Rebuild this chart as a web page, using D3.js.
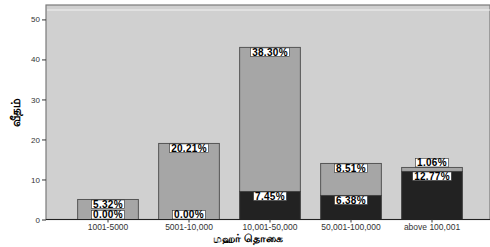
<!DOCTYPE html>
<html>
<head>
<meta charset="utf-8">
<script src="https://cdn.jsdelivr.net/npm/d3@7"></script>
<style>
  body { margin: 0; background: #fff; }
  svg { display: block; }
  .tick text { font-family: Arial, "Liberation Sans", sans-serif; }
</style>
</head>
<body>
<svg id="chart" width="490" height="247"></svg>
<script>
// categories and counts (N = 94)
const categories = ['1001-5000', '5001-10,000', '10,001-50,000', '50,001-100,000', 'above 100,001'];
const darkCounts = [0, 0, 7, 6, 12];
const greyCounts = [5, 19, 36, 8, 1];
const darkLabels = ['0.00%', '0.00%', '7.45%', '6.38%', '12.77%'];
const greyLabels = ['5.32%', '20.21%', '38.30%', '8.51%', '1.06%'];
const yTicks = [0, 10, 20, 30, 40, 50];

const svg = d3.select('#chart');
const plotLeft = 46, plotRight = 490, plotTop = 5, plotBottom = 219.5;

let y = d3.scaleLinear().domain([0, 53.6]).range([plotBottom, plotTop]);
let x = d3.scaleBand().domain(categories).range([67.5, 472.5]).paddingInner(0.25).paddingOuter(0.125);

// plot background
svg.append('rect')
  .attr('x', plotLeft).attr('y', plotTop)
  .attr('width', plotRight - plotLeft).attr('height', plotBottom - plotTop)
  .attr('fill', '#d0d0d0')
  .attr('stroke', '#7a7a7a').attr('stroke-width', 1.2);

// white line below the top frame
svg.append('line')
  .attr('x1', plotLeft + 1).attr('x2', plotRight)
  .attr('y1', plotTop + 5).attr('y2', plotTop + 5)
  .attr('stroke', '#f2f2f2').attr('stroke-width', 1.2);

let rows = categories.map((c, i) => ({
  cat: c, dark: darkCounts[i], grey: greyCounts[i],
  darkLabel: darkLabels[i], greyLabel: greyLabels[i]
}));

let g = svg.append('g');

// grey (upper) segments
g.selectAll('.grey').data(rows).enter().append('rect')
  .attr('x', d => x(d.cat)).attr('width', x.bandwidth())
  .attr('y', d => y(d.dark + d.grey))
  .attr('height', d => y(d.dark) - y(d.dark + d.grey))
  .attr('fill', '#a6a6a6').attr('stroke', '#555').attr('stroke-width', 1);

// dark (lower) segments
g.selectAll('.dark').data(rows.filter(d => d.dark > 0)).enter().append('rect')
  .attr('x', d => x(d.cat)).attr('width', x.bandwidth())
  .attr('y', d => y(d.dark))
  .attr('height', d => y(0) - y(d.dark))
  .attr('fill', '#222').attr('stroke', '#444').attr('stroke-width', 1);

// labels in white boxes
const boxH = 8.5;
let labels = [];
rows.forEach(d => {
  labels.push({ cat: d.cat, text: d.darkLabel, top: y(d.dark), bottom: y(0) });
  labels.push({ cat: d.cat, text: d.greyLabel, top: y(d.dark + d.grey), bottom: y(d.dark) });
});

let lg = svg.append('g');
labels.forEach(l => {
  // small segments: put the box just above the segment
  let boxTop = (l.bottom - l.top) < boxH + 1 ? l.top - boxH - 0.5 : l.top + 0.5;
  let cx = x(l.cat) + x.bandwidth() / 2;
  let t = lg.append('text')
    .attr('x', cx).attr('y', boxTop + boxH - 0.6)
    .attr('text-anchor', 'middle')
    .attr('font-family', 'Arial, "Liberation Sans", sans-serif')
    .attr('font-weight', 'bold')
    .attr('font-size', '10px')
    .attr('letter-spacing', '0.3px')
    .attr('fill', '#000')
    .text(l.text);
  let w = t.node().getComputedTextLength() + 3;
  lg.insert('rect', () => t.node())
    .attr('x', cx - w / 2).attr('y', boxTop)
    .attr('width', w).attr('height', boxH)
    .attr('fill', '#fff').attr('stroke', '#333').attr('stroke-width', 0.6);
});

// axes
let yAxis = svg.append('g')
  .attr('transform', 'translate(' + plotLeft + ',0)')
  .call(d3.axisLeft(y).tickValues(yTicks).tickSize(4).tickPadding(2));
yAxis.select('.domain').remove();
yAxis.selectAll('.tick line').attr('stroke', '#333');
yAxis.selectAll('.tick text').attr('font-size', '8px').attr('fill', '#333');

let xAxis = svg.append('g')
  .attr('transform', 'translate(0,' + plotBottom + ')')
  .call(d3.axisBottom(x).tickSize(3).tickPadding(1));
xAxis.select('.domain').attr('stroke', '#222').attr('d', 'M' + plotLeft + ',0H' + plotRight);
xAxis.selectAll('.tick line').attr('stroke', '#333');
xAxis.selectAll('.tick text').attr('font-size', '8.5px').attr('fill', '#333');

// axis titles
svg.append('text')
  .attr('x', 248).attr('y', 242)
  .attr('text-anchor', 'middle')
  .attr('font-family', '"Noto Sans", sans-serif')
  .attr('font-weight', 'bold').attr('font-size', '11px')
  .text('மஹர் தொகை');

svg.append('text')
  .attr('transform', 'translate(20,112) rotate(-90)')
  .attr('text-anchor', 'middle')
  .attr('font-family', '"Noto Sans", sans-serif')
  .attr('font-weight', 'bold').attr('font-size', '12px')
  .text('வீதம்');
</script>
</body>
</html>
